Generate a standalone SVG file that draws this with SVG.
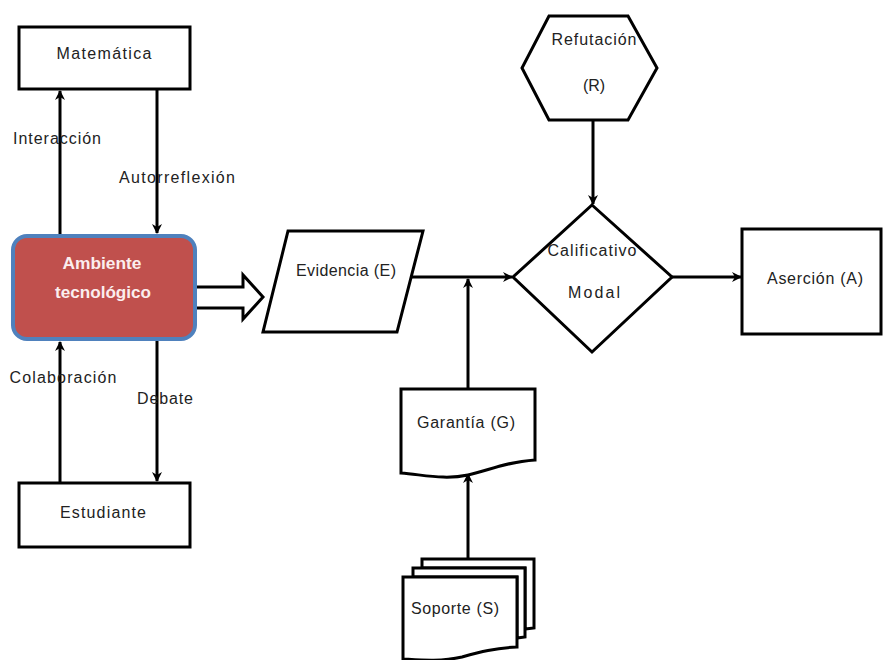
<svg xmlns="http://www.w3.org/2000/svg" width="884" height="660" viewBox="0 0 884 660">
  <defs>
    <marker id="arrow" viewBox="0 0 10 10" refX="9" refY="5" markerWidth="10" markerHeight="10" markerUnits="userSpaceOnUse" orient="auto">
      <path d="M0,0 L10,5 L0,10 L3,5 Z" fill="#000"/>
    </marker>
    <style>
      .shape { fill: #fff; stroke: #000; stroke-width: 3; }
      .conn { fill: none; stroke: #000; stroke-width: 3; marker-end: url(#arrow); }
      .lbl { font-family: "Liberation Sans", Arial, sans-serif; font-size: 16px; fill: #222; text-anchor: middle; dominant-baseline: central; }
      .lblw { font-family: "Liberation Sans", Arial, sans-serif; font-size: 16px; font-weight: bold; fill: #fbeeee; text-anchor: middle; dominant-baseline: central; }
    </style>
  </defs>
  <rect width="884" height="660" fill="#fff"/>

  <g id="connectors">
    <line class="conn" x1="60" y1="235" x2="60" y2="91"/>
    <line class="conn" x1="157" y1="89" x2="157" y2="233"/>
    <line class="conn" x1="60" y1="483" x2="60" y2="342"/>
    <line class="conn" x1="157" y1="340" x2="157" y2="481"/>
    <line class="conn" x1="411" y1="277" x2="512" y2="277"/>
    <line class="conn" x1="468" y1="389" x2="468" y2="279"/>
    <line class="conn" x1="593" y1="120" x2="593" y2="204"/>
    <line class="conn" x1="672" y1="277" x2="741" y2="277"/>
    <line class="conn" x1="468" y1="560" x2="468" y2="474"/>
    <!-- hollow block arrow -->
    <path d="M191,287 L243,287 L243,275 L263,297 L243,319 L243,308 L191,308 Z" fill="#fff" stroke="#000" stroke-width="3" stroke-linejoin="miter"/>
    <text class="lbl" x="57" y="138" textLength="88" lengthAdjust="spacing">Interacción</text>
    <text class="lbl" x="177" y="177" textLength="116" lengthAdjust="spacing">Autorreflexión</text>
    <text class="lbl" x="63" y="377" textLength="107" lengthAdjust="spacing">Colaboración</text>
    <text class="lbl" x="165" y="398" textLength="56" lengthAdjust="spacing">Debate</text>
  </g>

  <g id="matematica">
    <rect class="shape" x="19" y="27" width="171" height="62"/>
    <text class="lbl" x="104" y="53" textLength="95" lengthAdjust="spacing">Matemática</text>
  </g>

  <g id="ambiente">
    <rect x="13" y="236" width="182" height="103" rx="14" fill="#c0504d" stroke="#4f81bd" stroke-width="4"/>
    <text class="lblw" x="102" y="263" textLength="79" lengthAdjust="spacingAndGlyphs">Ambiente</text>
    <text class="lblw" x="103" y="292" textLength="96" lengthAdjust="spacingAndGlyphs">tecnológico</text>
  </g>

  <g id="estudiante">
    <rect class="shape" x="19" y="483" width="171" height="64"/>
    <text class="lbl" x="103" y="512" textLength="86" lengthAdjust="spacing">Estudiante</text>
  </g>

  <g id="evidencia">
    <polygon class="shape" points="288,231 423,231 397,332 263,332"/>
    <text class="lbl" x="346" y="270" textLength="100" lengthAdjust="spacing">Evidencia (E)</text>
  </g>

  <g id="refutacion">
    <polygon class="shape" points="549,16 628,16 657,68 628,120 549,120 522,68"/>
    <text class="lbl" x="594" y="39" textLength="85" lengthAdjust="spacing">Refutación</text>
    <text class="lbl" x="594" y="85">(R)</text>
  </g>

  <g id="calificativo">
    <polygon class="shape" points="592,205 672,277 592,352 513,277"/>
    <text class="lbl" x="592" y="250" textLength="89" lengthAdjust="spacing">Calificativo</text>
    <text class="lbl" x="594" y="292" textLength="52" lengthAdjust="spacing">Modal</text>
  </g>

  <g id="asercion">
    <rect class="shape" x="742" y="229" width="139" height="105"/>
    <text class="lbl" x="815" y="278" textLength="96" lengthAdjust="spacing">Aserción (A)</text>
  </g>

  <g id="garantia">
    <path class="shape" d="M401,389 L535,389 L535,460 C505,462 490,470 468,475 C445,480 425,475 401,473 Z"/>
    <text class="lbl" x="466" y="422" textLength="98" lengthAdjust="spacing">Garantía (G)</text>
  </g>

  <g id="soporte">
    <path class="shape" d="M422,559 L534,559 L534,628 L525,629 L525,568 L422,568 Z"/>
    <path class="shape" d="M413,568 L525,568 L525,637 L517,638 L517,577 L413,577 Z"/>
    <path class="shape" d="M403,577 L517,577 L517,647 C495,648 480,652 462,657 C440,662 420,660 403,659 Z"/>
    <text class="lbl" x="455" y="608" textLength="88" lengthAdjust="spacing">Soporte (S)</text>
  </g>
</svg>
